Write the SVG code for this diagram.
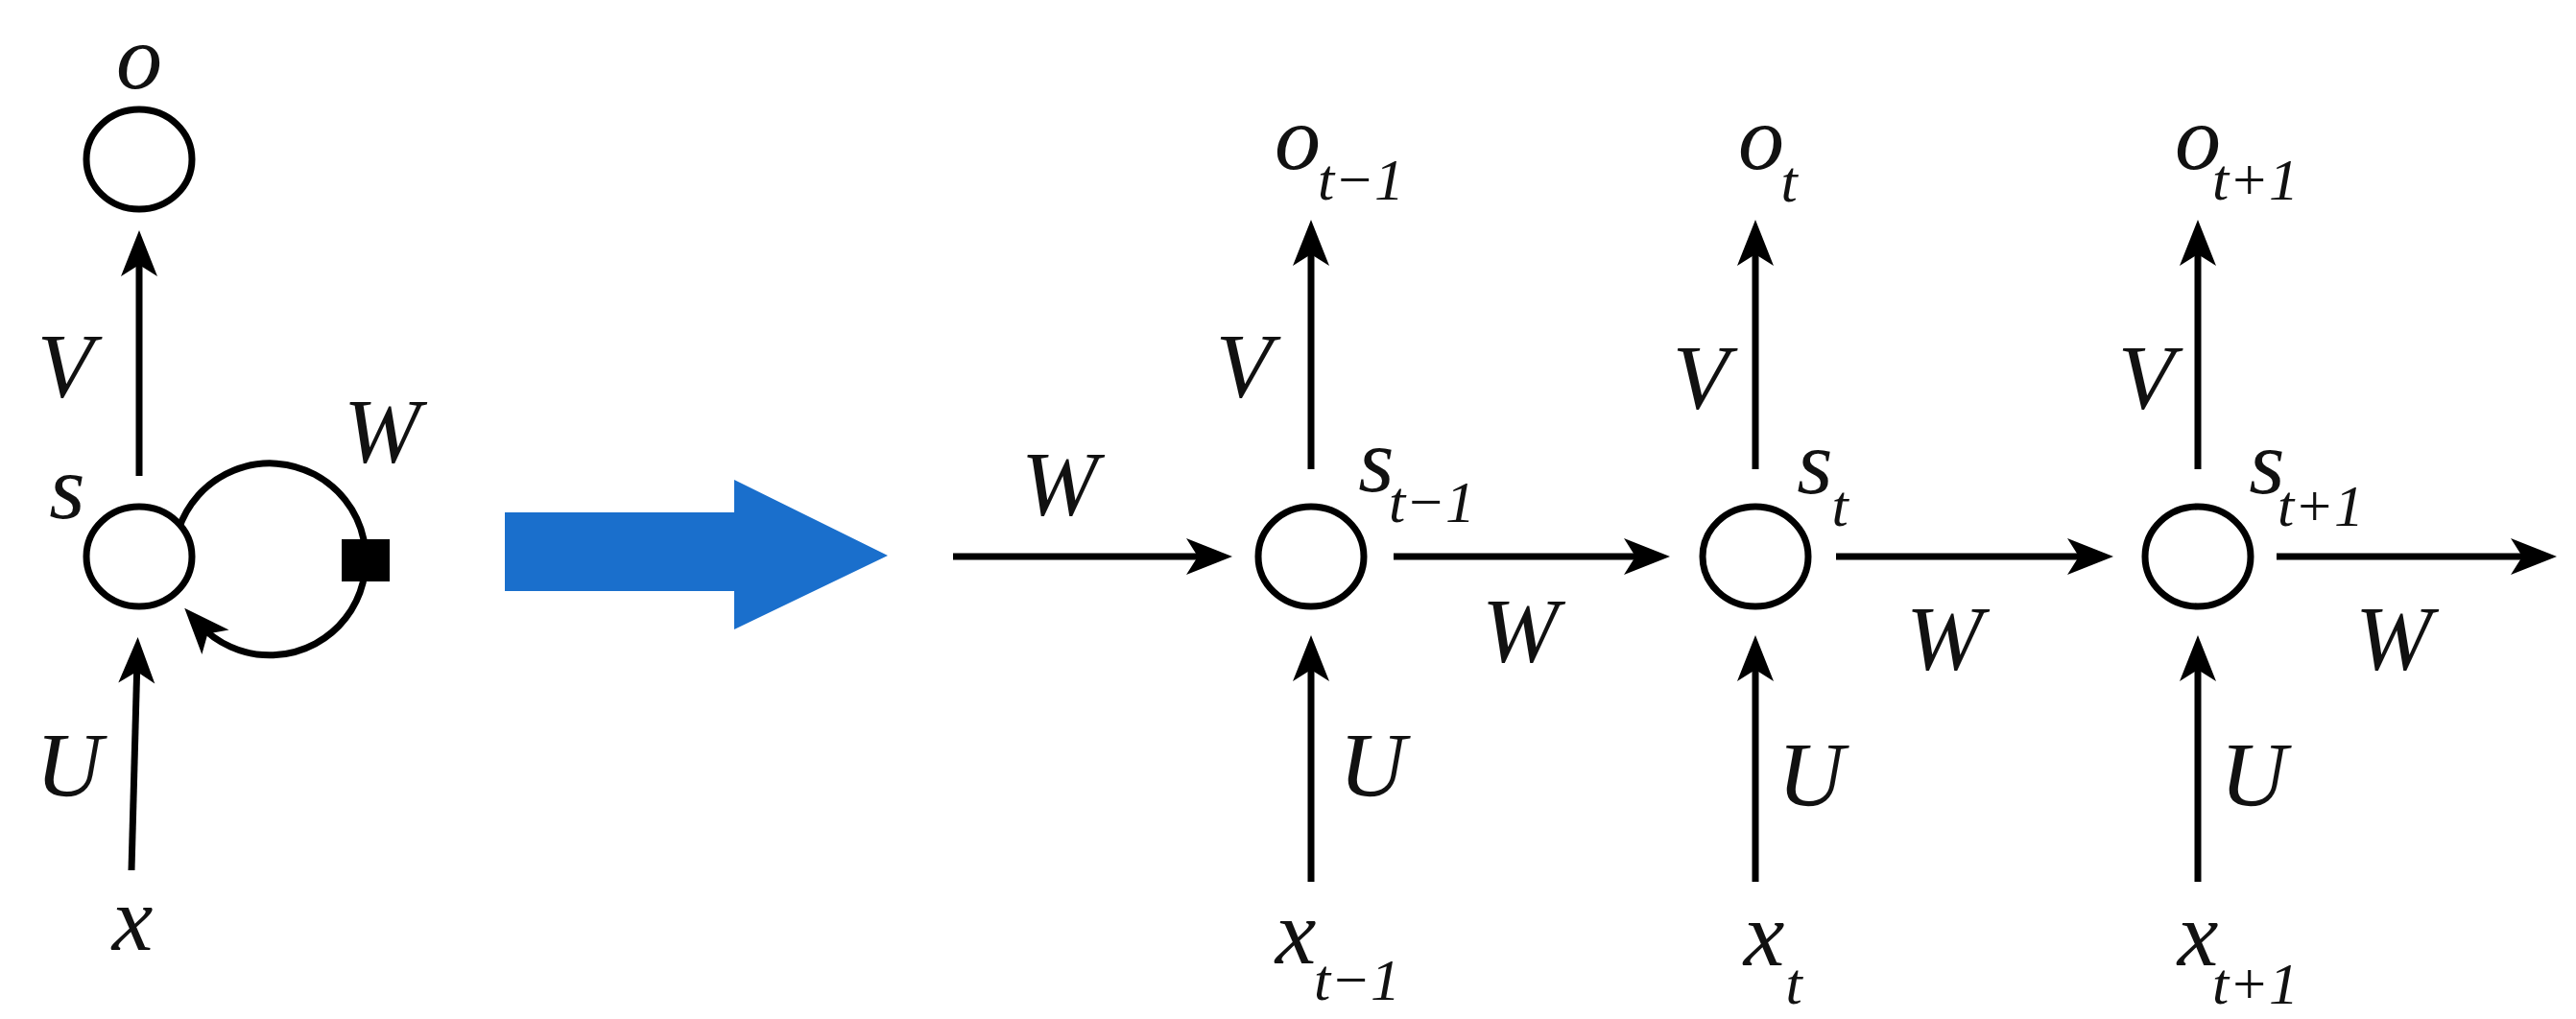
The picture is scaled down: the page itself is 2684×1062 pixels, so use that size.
<svg xmlns="http://www.w3.org/2000/svg" width="2684" height="1062" viewBox="0 0 2684 1062">
<style>
.n{fill:#fff;stroke:#000;stroke-width:7}
.c{stroke:#000;stroke-width:7;fill:none;marker-end:url(#ah)}
text{font-family:"Liberation Serif","Times New Roman",serif;font-style:italic;fill:#111}
.m{font-size:96px;text-anchor:middle}
.s{font-size:62px;text-anchor:middle}
</style>
<defs>
<marker id="ah" markerUnits="userSpaceOnUse" markerWidth="80" markerHeight="60" viewBox="-40 -30 80 60" refX="0" refY="0" orient="auto" overflow="visible">
<path d="M22,0 L-26,-19 L-14,0 L-26,19 Z" fill="#000"/>
</marker>
</defs>
<rect width="2684" height="1062" fill="#fff"/>
<g id="connectors">
<line class="c" x1="145" y1="496" x2="145" y2="262"/>
<line class="c" x1="137" y1="907" x2="143" y2="686"/>
<path class="c" d="M186,552 A100,100 0 1 1 207,650"/>
<line class="c" x1="993" y1="580" x2="1262" y2="580"/>
<line class="c" x1="1452" y1="580" x2="1718" y2="580"/>
<line class="c" x1="1913" y1="580" x2="2180" y2="580"/>
<line class="c" x1="2372" y1="580" x2="2642" y2="580"/>
<line class="c" x1="1366" y1="489" x2="1366" y2="251"/>
<line class="c" x1="1829" y1="489" x2="1829" y2="251"/>
<line class="c" x1="2290" y1="489" x2="2290" y2="251"/>
<line class="c" x1="1366" y1="919" x2="1366" y2="684"/>
<line class="c" x1="1829" y1="919" x2="1829" y2="684"/>
<line class="c" x1="2290" y1="919" x2="2290" y2="684"/>
</g>
<g id="loop-square"><rect x="356" y="562" width="50" height="44" fill="#000"/></g>
<g id="left-o"><ellipse class="n" cx="145" cy="166" rx="55" ry="52"/><text class="m" x="145" y="92">o</text></g>
<g id="left-s"><ellipse class="n" cx="145" cy="580" rx="55" ry="52"/><text class="m" x="70" y="540">s</text></g>
<g id="left-labels">
<text class="m" x="68" y="414">V</text>
<text class="m" x="398" y="482">W</text>
<text class="m" x="72" y="830">U</text>
<text class="m" x="138" y="990">x</text>
</g>
<g id="unfold-arrow"><polygon points="526,534 765,534 765,500 925,579 765,656 765,616 526,616" fill="#1a6fcc"/></g>
<g id="cell1">
<ellipse class="n" cx="1366" cy="580" rx="55" ry="52"/>
<text class="m" x="1352" y="176">o</text><text class="s" x="1418" y="208">t−1</text>
<text class="m" x="1296" y="414">V</text>
<text class="m" x="1434" y="512">s</text><text class="s" x="1492" y="544">t−1</text>
<text class="m" x="1430" y="830">U</text>
<text class="m" x="1350" y="1004">x</text><text class="s" x="1414" y="1042">t−1</text>
</g>
<g id="cell2">
<ellipse class="n" cx="1829" cy="580" rx="55" ry="52"/>
<text class="m" x="1835" y="176">o</text><text class="s" x="1864" y="210">t</text>
<text class="m" x="1772" y="426">V</text>
<text class="m" x="1891" y="514">s</text><text class="s" x="1917" y="548">t</text>
<text class="m" x="1887" y="840">U</text>
<text class="m" x="1838" y="1006">x</text><text class="s" x="1869" y="1046">t</text>
</g>
<g id="cell3">
<ellipse class="n" cx="2290" cy="580" rx="55" ry="52"/>
<text class="m" x="2290" y="176">o</text><text class="s" x="2350" y="208">t+1</text>
<text class="m" x="2236" y="426">V</text>
<text class="m" x="2362" y="514">s</text><text class="s" x="2418" y="548">t+1</text>
<text class="m" x="2348" y="840">U</text>
<text class="m" x="2290" y="1006">x</text><text class="s" x="2350" y="1046">t+1</text>
</g>
<g id="w-labels">
<text class="m" x="1104" y="537">W</text>
<text class="m" x="1584" y="690">W</text>
<text class="m" x="2026" y="698">W</text>
<text class="m" x="2494" y="698">W</text>
</g>
</svg>
